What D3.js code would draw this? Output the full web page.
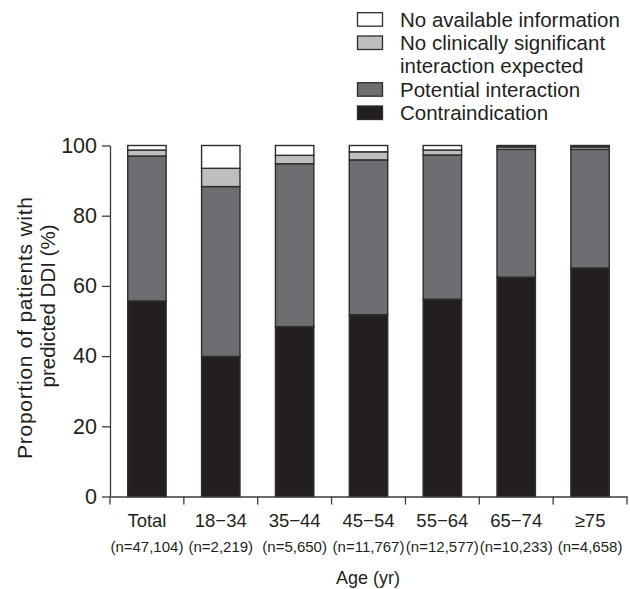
<!DOCTYPE html>
<html>
<head>
<meta charset="utf-8">
<script src="https://cdn.jsdelivr.net/npm/d3@7"></script>
<style>
  html, body { margin: 0; padding: 0; background: #fff; }
  svg { display: block; font-family: "Liberation Sans", Arial, sans-serif; }
</style>
</head>
<body>
<svg id="chart" width="630" height="589"></svg>
<script>
// ---- data ----
const categories = ["Total", "18\u221234", "35\u221244", "45\u221254", "55\u221264", "65\u221274", "\u226575"];
const sampleSizes = ["(n=47,104)", "(n=2,219)", "(n=5,650)", "(n=11,767)", "(n=12,577)", "(n=10,233)", "(n=4,658)"];
const contraindication = [55.7, 39.9, 48.4, 51.8, 56.2, 62.5, 65.1];
const potentialInteraction = [41.3, 48.4, 46.4, 44.1, 41.1, 36.4, 33.8];
const noSignificantInteraction = [1.7, 5.2, 2.4, 2.3, 1.4, 0.7, 0.7];
const noInformation = [1.3, 6.5, 2.8, 1.8, 1.3, 0.4, 0.4];
const yTicks = [0, 20, 40, 60, 80, 100];
const seriesKeys = ["contra", "potential", "nosig", "noinfo"];
const legendLabels = [
  { key: "noinfo", lines: ["No available information"] },
  { key: "nosig", lines: ["No clinically significant", "interaction expected"] },
  { key: "potential", lines: ["Potential interaction"] },
  { key: "contra", lines: ["Contraindication"] }
];

const colors = { contra: "#231f20", potential: "#6d6e71", nosig: "#bcbec0", noinfo: "#ffffff" };
const ink = "#231f20";
const axisColor = "#3b3b3b";

const rows = categories.map((c, i) => ({
  cat: c,
  contra: contraindication[i],
  potential: potentialInteraction[i],
  nosig: noSignificantInteraction[i],
  noinfo: noInformation[i]
}));

const svg = d3.select("#chart");

const x = d3.scaleBand().domain(categories).range([110, 627]).paddingInner(0.48).paddingOuter(0.24);
const y = d3.scaleLinear().domain([0, 100]).range([496.5, 145.5]);

const stacked = d3.stack().keys(seriesKeys)(rows);

// bars
svg.append("g").selectAll("g")
  .data(stacked)
  .join("g")
  .attr("fill", d => colors[d.key])
  .selectAll("rect")
  .data(d => d)
  .join("rect")
  .attr("x", d => x(d.data.cat))
  .attr("width", x.bandwidth())
  .attr("y", d => y(d[1]))
  .attr("height", d => y(d[0]) - y(d[1]))
  .attr("stroke", "#2e2c2d")
  .attr("stroke-width", 1.4);

// y axis
const yAxis = svg.append("g")
  .attr("transform", "translate(110,0)")
  .call(d3.axisLeft(y).tickValues(yTicks).tickSize(8).tickPadding(5).tickSizeOuter(0));
yAxis.select(".domain").attr("stroke", axisColor).attr("stroke-width", 1.3);
yAxis.selectAll(".tick line").attr("stroke", axisColor).attr("stroke-width", 1.3);
yAxis.selectAll(".tick text")
  .attr("font-size", 21.5)
  .attr("font-family", "Liberation Sans, Arial, sans-serif")
  .attr("fill", ink);

// x axis
const xAxisY = y(0);
const xAxis = svg.append("g")
  .attr("transform", `translate(0,${xAxisY})`)
  .call(d3.axisBottom(x).tickSize(0).tickPadding(0).tickSizeOuter(0));
xAxis.select(".domain").attr("stroke", axisColor).attr("stroke-width", 1.3);
xAxis.selectAll(".tick text").remove();
// boundary ticks
const boundaries = categories.map(c => x(c) - x.step() * x.paddingInner() / 2).concat([x.range()[1]]);
xAxis.selectAll("line.bound")
  .data(boundaries)
  .join("line")
  .attr("class", "bound")
  .attr("x1", d => d).attr("x2", d => d)
  .attr("y1", 0).attr("y2", 8)
  .attr("stroke", axisColor).attr("stroke-width", 1.3);

// category labels
const labels = svg.append("g").attr("fill", ink).attr("text-anchor", "middle");
labels.selectAll("text.cat")
  .data(categories)
  .join("text")
  .attr("class", "cat")
  .attr("x", d => x(d) + x.bandwidth() / 2)
  .attr("y", 527)
  .attr("font-size", 18.5)
  .text(d => d);
labels.selectAll("text.n")
  .data(sampleSizes)
  .join("text")
  .attr("class", "n")
  .attr("x", (d, i) => x(categories[i]) + x.bandwidth() / 2)
  .attr("y", 552)
  .attr("font-size", 15)
  .text(d => d);

// axis titles
svg.append("text")
  .attr("x", 368).attr("y", 584)
  .attr("text-anchor", "middle")
  .attr("font-size", 18)
  .attr("fill", ink)
  .text("Age (yr)");

svg.append("text")
  .attr("transform", "translate(32,328) rotate(-90)")
  .attr("text-anchor", "middle")
  .attr("font-size", 21)
  .attr("textLength", 262)
  .attr("lengthAdjust", "spacing")
  .attr("fill", ink)
  .text("Proportion of patients with");
svg.append("text")
  .attr("transform", "translate(55,306) rotate(-90)")
  .attr("text-anchor", "middle")
  .attr("font-size", 20.5)
  .attr("fill", ink)
  .text("predicted DDI (%)");

// legend
const legend = svg.append("g");
let lineIdx = 0;
const baselines = [26.7, 50, 73, 96.7, 120];
legendLabels.forEach((item) => {
  const base = baselines[lineIdx];
  legend.append("rect")
    .attr("x", 357.5).attr("y", base - 14)
    .attr("width", 25).attr("height", 13.5)
    .attr("fill", colors[item.key])
    .attr("stroke", "#2e2c2d").attr("stroke-width", 1.3);
  item.lines.forEach((ln) => {
    legend.append("text")
      .attr("x", 400).attr("y", baselines[lineIdx])
      .attr("font-size", 20.5)
      .attr("fill", ink)
      .text(ln);
    lineIdx++;
  });
});
</script>
</body>
</html>
